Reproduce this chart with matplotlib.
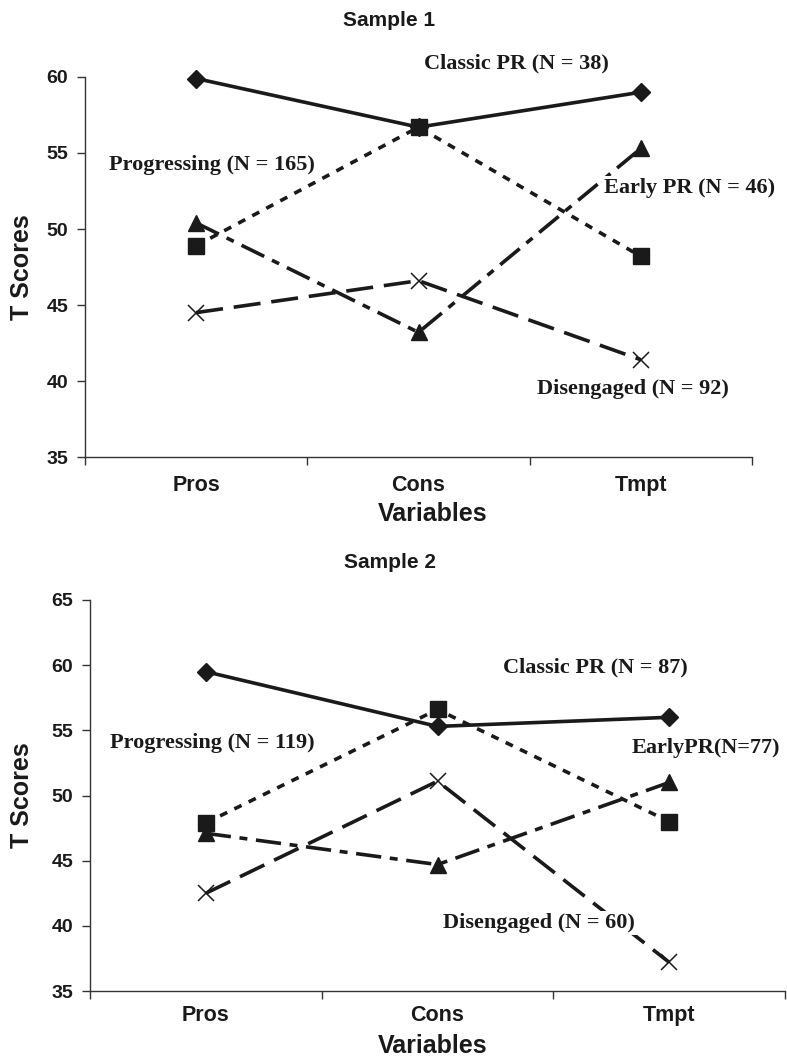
import matplotlib
matplotlib.use("Agg")
import matplotlib.pyplot as plt

categories = ["Pros", "Cons", "Tmpt"]

s1_classic = [59.9, 56.7, 59.0]
s1_progressing = [48.9, 56.7, 48.2]
s1_early = [50.4, 43.2, 55.3]
s1_disengaged = [44.5, 46.6, 41.4]

s2_classic = [59.5, 55.3, 56.0]
s2_progressing = [47.9, 56.6, 48.0]
s2_early = [47.1, 44.7, 51.0]
s2_disengaged = [42.5, 51.1, 37.2]

s1_labels = ["Classic PR (N = 38)", "Progressing (N = 165)",
             "Early PR (N = 46)", "Disengaged (N = 92)"]
s2_labels = ["Classic PR (N = 87)", "Progressing (N = 119)",
             "EarlyPR(N=77)", "Disengaged (N = 60)"]

W, H = 787, 1060
ink = "#1a1a1a"
sans = "Liberation Sans"
serif = "Liberation Serif"

fig = plt.figure(figsize=(W / 100, H / 100), dpi=100)


def px_axes(left, top, right, bottom):
    return fig.add_axes([left / W, 1 - bottom / H, (right - left) / W, (bottom - top) / H])


def draw(ax, classic, progressing, early, disengaged, ylim, labels, label_pos, tick_pad):
    x = range(len(categories))
    ax.plot(x, progressing, color=ink, lw=2.6, ls=(0, (2.2, 2.2)),
            marker="s", ms=11, mfc=ink, mec=ink, zorder=3, clip_on=False)
    ax.plot(x, early, color=ink, lw=2.6, ls=(0, (7, 2.4, 2.2, 2.4)),
            marker="^", ms=11, mfc=ink, mec=ink, zorder=3, clip_on=False)
    ax.plot(x, disengaged, color=ink, lw=2.6, ls=(0, (7.5, 3)),
            marker="x", ms=11, mew=1.1, mec=ink, zorder=3, clip_on=False)
    ax.plot(x, classic, color=ink, lw=2.6, ls="-",
            marker="D", ms=9.5, mfc=ink, mec=ink, zorder=4, clip_on=False)

    for txt, (tx, ty) in zip(labels, label_pos):
        ax.text(tx, ty, txt, ha="center", va="center", fontsize=16,
                fontfamily=serif, fontweight="bold", color=ink, zorder=6,
                bbox=dict(facecolor="white", edgecolor="none", pad=1.5))

    ax.set_xlim(-0.5, len(categories) - 0.5)
    ax.set_ylim(*ylim)
    ax.set_yticks(range(ylim[0], ylim[1] + 1, 5))
    ax.set_xticks([i - 0.5 for i in range(len(categories) + 1)])
    ax.set_xticklabels([])
    ax.set_xticks(list(x), minor=True)
    ax.set_xticklabels(categories, minor=True, fontsize=15.5,
                       fontfamily=sans, fontweight="bold", color=ink)
    ax.tick_params(axis="x", which="major", length=6, width=1, color="#333333", direction="out")
    ax.tick_params(axis="x", which="minor", length=0, pad=tick_pad)
    ax.tick_params(axis="y", length=6, width=1, color="#333333", pad=6, labelsize=14)
    for lab in ax.get_yticklabels():
        lab.set_fontfamily(sans)
        lab.set_fontweight("bold")
        lab.set_color(ink)
    for s in ("top", "right"):
        ax.spines[s].set_visible(False)
    for s in ("left", "bottom"):
        ax.spines[s].set_color("#333333")
        ax.spines[s].set_linewidth(1)


ax1 = px_axes(85, 77, 752, 457)
draw(ax1, s1_classic, s1_progressing, s1_early, s1_disengaged, (35, 60), s1_labels,
     [(1.44, 60.9), (0.07, 54.2), (2.22, 52.7), (1.965, 39.5)], tick_pad=13)

ax2 = px_axes(90, 600, 785, 991)
draw(ax2, s2_classic, s2_progressing, s2_early, s2_disengaged, (35, 65), s2_labels,
     [(1.68, 59.86), (0.03, 54.0), (2.16, 53.64), (1.44, 40.2)], tick_pad=10)

title_kw = dict(ha="center", va="center", fontsize=15, fontfamily=sans,
                fontweight="bold", color=ink)
label_kw = dict(ha="center", va="center", fontsize=18, fontfamily=sans,
                fontweight="bold", color=ink)

fig.text(389 / W, 1 - 20 / H, "Sample 1", **title_kw)
fig.text(390 / W, 1 - 563 / H, "Sample 2", **title_kw)
fig.text(433 / W, 1 - 514 / H, "Variables", **label_kw)
fig.text(433 / W, 1 - 1046 / H, "Variables", **label_kw)
fig.text(22 / W, 1 - 267 / H, "T Scores", rotation=90, **label_kw)
fig.text(22 / W, 1 - 795 / H, "T Scores", rotation=90, **label_kw)

fig.savefig("out.png", dpi=100, facecolor="white")
